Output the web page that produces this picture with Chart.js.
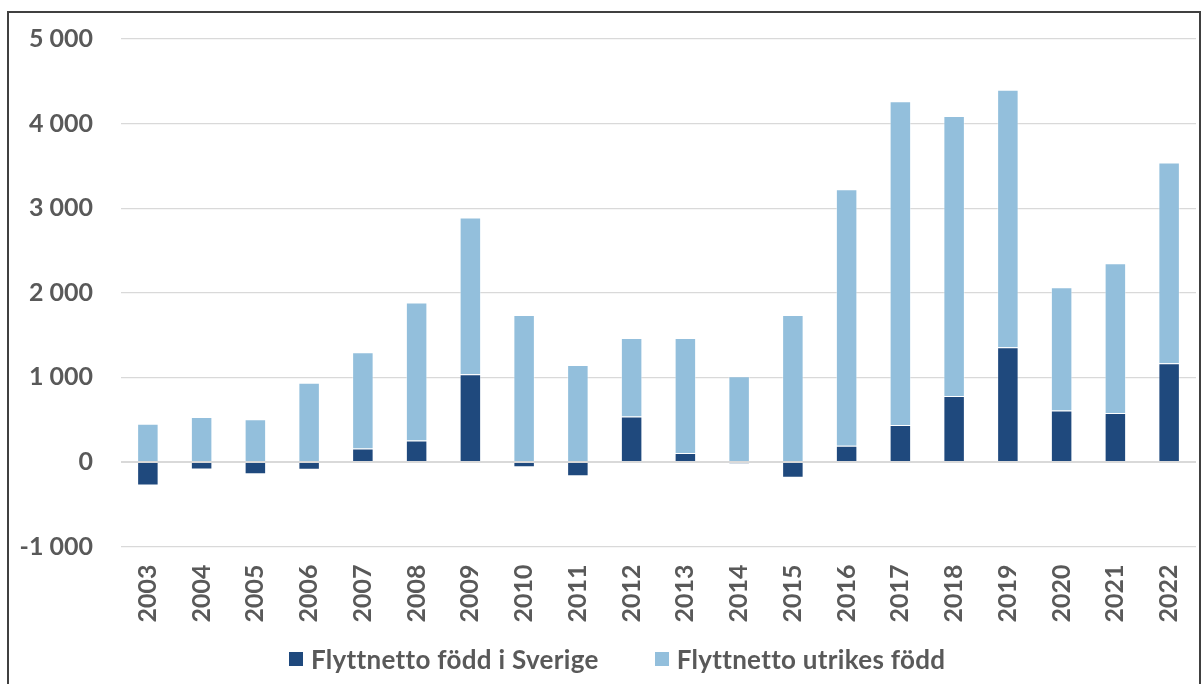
<!DOCTYPE html>
<html lang="sv">
<head>
  <meta charset="UTF-8">
  <title>Flyttnetto</title>
  <script src="https://cdn.jsdelivr.net/npm/chart.js"></script>
  <style>
    * { box-sizing: border-box; margin: 0; padding: 0; }
    body { background: #fff; width: 1203px; height: 684px; overflow: hidden; position: relative;
           font-family: Lato, "Open Sans", sans-serif; }
    .frame {
      position: absolute;
      left: 7px; top: 11px; right: 2px; bottom: -10px;
      border: 2px solid #404040;
      pointer-events: none;
    }
    .wrap { position: absolute; left: 0; top: 0; width: 1203px; height: 684px; }
    .legend {
      position: absolute;
      left: 289px; top: 643px;
      display: flex; align-items: center; gap: 56px;
      color: #595959; font-weight: bold; font-size: 26px; letter-spacing: 0.3px;
      line-height: 32px; white-space: nowrap;
    }
    .legend span.item { display: flex; align-items: center; }
    .legend i { display: inline-block; width: 14px; height: 14px; margin-right: 8px; }
  </style>
</head>
<body>
  <div class="wrap"><canvas id="chart" width="1203" height="684"></canvas></div>
  <div class="legend" id="legend"></div>
  <div class="frame"></div>

  <script>
    const years = ['2003', '2004', '2005', '2006', '2007', '2008', '2009', '2010', '2011', '2012',
                   '2013', '2014', '2015', '2016', '2017', '2018', '2019', '2020', '2021', '2022'];
    const foddSverige = [-280, -90, -145, -93, 160, 254, 1035, -62, -168, 538,
                         104, -21, -187, 192, 436, 779, 1355, 609, 578, 1166];
    const utrikesFodd = [452, 530, 503, 937, 1136, 1630, 1855, 1737, 1146, 927,
                         1361, 1012, 1737, 3033, 3827, 3310, 3045, 1456, 1771, 2375];
    const yTicks = [-1000, 0, 1000, 2000, 3000, 4000, 5000];

    const textColor = '#595959';
    const fontFamily = 'Lato, "Open Sans", sans-serif';

    function fmt(v) {
      const s = Math.abs(v).toString().replace(/\B(?=(\d{3})+(?!\d))/g, ' ');
      return (v < 0 ? '-' : '') + s;
    }

    const chart = new Chart(document.getElementById('chart'), {
      type: 'bar',
      data: {
        labels: years,
        datasets: [
          {
            label: 'Flyttnetto född i Sverige',
            data: foddSverige,
            backgroundColor: '#1f497d',
            borderColor: 'rgba(255,255,255,0.3)',
            borderWidth: 1,
            barPercentage: 0.4,
            categoryPercentage: 1
          },
          {
            label: 'Flyttnetto utrikes född',
            data: utrikesFodd,
            backgroundColor: '#93bfdc',
            borderColor: 'rgba(255,255,255,0.4)',
            borderWidth: 1,
            barPercentage: 0.4,
            categoryPercentage: 1
          }
        ]
      },
      options: {
        responsive: false,
        animation: false,
        layout: { padding: { top: 39, right: 7, bottom: 43.5, left: 0 } },
        plugins: {
          tooltip: { enabled: false },
          legend: { display: false }
        },
        scales: {
          x: {
            stacked: true,
            grid: { display: false, drawTicks: false },
            border: { display: false },
            ticks: {
              color: textColor,
              autoSkip: false,
              maxRotation: 90,
              minRotation: 90,
              padding: 18,
              font: { family: fontFamily, size: 25, weight: 'bold' }
            },
            afterFit(scale) {
              scale.height = 94;
              scale.paddingLeft = 0;
              scale.paddingRight = 0;
            }
          },
          y: {
            stacked: true,
            min: -1000,
            max: 5000,
            afterBuildTicks(scale) { scale.ticks = yTicks.map(v => ({ value: v })); },
            grid: {
              color: '#d9d9d9',
              lineWidth: ctx => (ctx.tick && ctx.tick.value === 0 ? 2 : 1.2),
              drawTicks: false
            },
            border: { display: false },
            ticks: {
              color: textColor,
              padding: 28,
              font: { family: fontFamily, size: 25, weight: 'bold' },
              callback: v => fmt(v)
            },
            afterFit(scale) {
              scale.width = 121;
              scale.paddingTop = 0;
              scale.paddingBottom = 0;
            }
          }
        }
      }
    });

    // legend built from the chart's datasets
    document.getElementById('legend').innerHTML = chart.data.datasets.map(ds =>
      '<span class="item"><i style="background:' + ds.backgroundColor + '"></i>' + ds.label + '</span>'
    ).join('');
  </script>
</body>
</html>
